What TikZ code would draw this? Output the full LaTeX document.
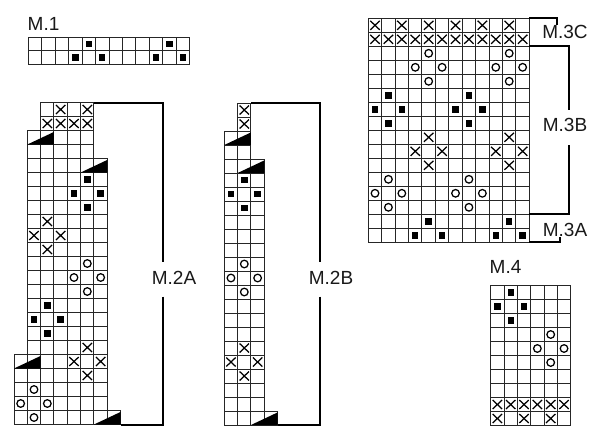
\documentclass[tikz,border=0pt]{standalone}
\usepackage{fontspec}
\setmainfont{Liberation Sans}
\newcommand\kSq[2]{\fill[black] (#1+0.5,#2+0.5) ++(-3.2pt,-3.2pt) rectangle ++(6.4pt,6.4pt);}
\newcommand\kCi[2]{\draw[sym] (#1+0.5,#2+0.5) circle[radius=3.8pt];}
\newcommand\kX[2]{\draw[sym] (#1+0.5,#2+0.5) ++(-4.7pt,-4.5pt) -- ++(9.4pt,9pt) ++(-9.4pt,0pt) -- ++(9.4pt,-9pt);}
\newcommand\kTri[2]{\fill[black] (#1,#2+1) -- (#1+2,#2+0.1) -- (#1+2,#2+1) -- cycle;}
\newcommand\kCells[4]{\foreach \rr in {#3,...,#4} {\foreach \cc in {#1,...,#2} {\draw[gridl] (\cc,\rr) rectangle ++(1,1);}}}
\begin{document}
\begin{tikzpicture}[x=1pt,y=-1pt,
  gridl/.style={line width=1pt, draw=black!85},
  sym/.style={line width=1.25pt, draw=black},
  brk/.style={line width=2pt, draw=black},
  lab/.style={font=\fontsize{19}{20}\selectfont, inner sep=0pt, text=black!90}]
\useasboundingbox (0,0) rectangle (600,437);
\fill[white] (0,0) rectangle (600,437);

% ---------- M.1 ----------
\node[lab, anchor=base west] (l1) at (27.5,30.5) {M.1};
\begin{scope}[shift={(28.3,37.5)}, x=13.45pt, y=-13.4pt]
  \kCells{0}{11}{0}{1}
  \foreach \c/\r in {4/0,10/0,3/1,5/1,9/1,11/1} {\kSq{\c}{\r}}
\end{scope}

% ---------- M.2A ----------
\begin{scope}[shift={(14,102.5)}, x=13.333pt, y=-14pt]
  \kCells{2}{5}{0}{1}
  \kCells{1}{5}{2}{3}
  \kCells{1}{6}{4}{17}
  \kCells{0}{6}{18}{21}
  \kCells{0}{7}{22}{22}
  \foreach \c/\r in {3/0,5/0,2/1,3/1,4/1,5/1,2/8,1/9,3/9,2/10,5/17,4/18,6/18,5/19} {\kX{\c}{\r}}
  \foreach \c/\r in {1/2,5/4,0/18,6/22} {\kTri{\c}{\r}}
  \foreach \c/\r in {5/5,4/6,6/6,5/7,2/14,1/15,3/15,2/16} {\kSq{\c}{\r}}
  \foreach \c/\r in {5/11,4/12,6/12,5/13,1/20,0/21,2/21,1/22} {\kCi{\c}{\r}}
\end{scope}
\draw[brk] (94,102.5) -- (163,102.5) -- (163,262);
\draw[brk] (163,296.5) -- (163,424.5) -- (120.7,424.5);
\node[lab] (l2a) at (174,277.5) {M.2A};

% ---------- M.2B ----------
\begin{scope}[shift={(224.3,103)}, x=13.333pt, y=-14pt]
  \kCells{1}{1}{0}{1}
  \kCells{0}{1}{2}{3}
  \kCells{0}{2}{4}{21}
  \kCells{0}{3}{22}{22}
  \foreach \c/\r in {1/0,1/1,1/17,0/18,2/18,1/19} {\kX{\c}{\r}}
  \foreach \c/\r in {0/2,1/4,2/22} {\kTri{\c}{\r}}
  \foreach \c/\r in {1/5,0/6,2/6,1/7} {\kSq{\c}{\r}}
  \foreach \c/\r in {1/11,0/12,2/12,1/13} {\kCi{\c}{\r}}
\end{scope}
\draw[brk] (251,103) -- (320,103) -- (320,262);
\draw[brk] (320,296.5) -- (320,425) -- (277.6,425);
\node[lab] (l2b) at (331,277.5) {M.2B};

% ---------- M.3 ----------
\begin{scope}[shift={(368.3,18.3)}, x=13.42pt, y=-14pt]
  \kCells{0}{11}{0}{15}
  \foreach \c in {0,2,4,6,8,10} {\kX{\c}{0}}
  \foreach \c in {0,...,11} {\kX{\c}{1}}
  \foreach \c/\r in {4/2,10/2,3/3,5/3,9/3,11/3,4/4,10/4,1/11,7/11,0/12,2/12,6/12,8/12,1/13,7/13} {\kCi{\c}{\r}}
  \foreach \c/\r in {1/5,7/5,0/6,2/6,6/6,8/6,1/7,7/7,4/14,10/14,3/15,5/15,9/15,11/15} {\kSq{\c}{\r}}
  \foreach \c/\r in {4/8,10/8,3/9,5/9,9/9,11/9,4/10,10/10} {\kX{\c}{\r}}
\end{scope}
\draw[brk] (529.3,18.3) -- (557,18.3) -- (557,25);
\draw[brk] (529.3,46.3) -- (569,46.3) -- (569,110);
\draw[brk] (569,145) -- (569,214.3) -- (529.3,214.3);
\draw[brk] (529.3,242.3) -- (560,242.3) -- (560,236.5);
\node[lab] (l3c) at (565,32) {M.3C};
\node[lab] (l3b) at (565,125) {M.3B};
\node[lab] (l3a) at (565,230) {M.3A};

% ---------- M.4 ----------
\node[lab, anchor=base west] (l4) at (489.5,273.3) {M.4};
\begin{scope}[shift={(490.7,285.5)}, x=13.333pt, y=-14pt]
  \kCells{0}{5}{0}{9}
  \foreach \c/\r in {1/0,0/1,2/1,1/2} {\kSq{\c}{\r}}
  \foreach \c/\r in {4/3,3/4,5/4,4/5} {\kCi{\c}{\r}}
  \foreach \c in {0,...,5} {\kX{\c}{8}}
  \foreach \c in {0,2,4} {\kX{\c}{9}}
\end{scope}
\end{tikzpicture}
\end{document}
